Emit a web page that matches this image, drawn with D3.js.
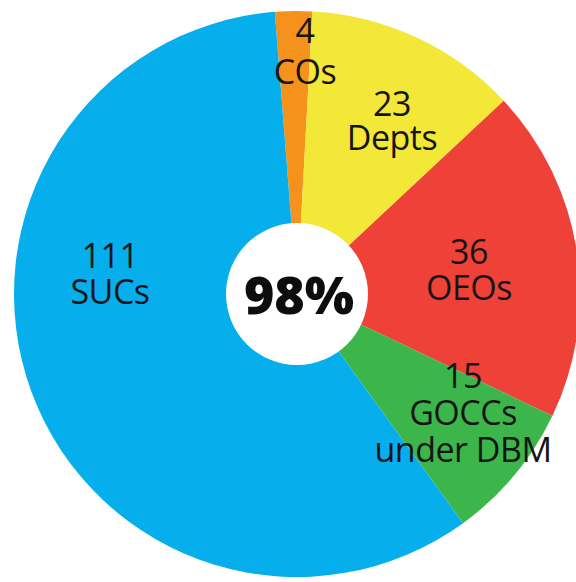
<!DOCTYPE html>
<html>
<head>
<meta charset="utf-8">
<script src="https://cdn.jsdelivr.net/npm/d3@7/dist/d3.min.js"></script>
<style>
  html, body { margin: 0; padding: 0; background: #ffffff; }
  svg { display: block; }
</style>
</head>
<body>
<svg id="chart" width="576" height="582"></svg>
<script>
// Agencies by type (counts)
const categories = ["COs", "Depts", "OEOs", "GOCCs", "SUCs"];
const values = [4, 23, 36, 15, 111];
const labelLines = [
  ["4", "COs"],
  ["23", "Depts"],
  ["36", "OEOs"],
  ["15", "GOCCs", "under DBM"],
  ["111", "SUCs"]
];
const centerLabel = "98%";

// Styling and layout
const colors = ["#f5921c", "#f3e737", "#ee4137", "#3cb54b", "#06aeec"];
const cx = 297, cy = 294;
const outerR = 283, innerR = 71;
const startDeg = -4.5;

// Label anchors (x centre and baselines of each line)
const labelLayout = [
  { x: 305, y: [43, 84] },
  { x: 392, y: [116, 150] },
  { x: 469, y: [264, 300] },
  { x: 463, y: [388, 425, 462] },
  { x: 110, y: [268, 304] }
];

const svg = d3.select("#chart");
const g = svg.append("g").attr("transform", `translate(${cx},${cy})`);

const pie = d3.pie()
  .sort(null)
  .value(d => d)
  .startAngle(startDeg * Math.PI / 180)
  .endAngle(startDeg * Math.PI / 180 + 2 * Math.PI);

const arc = d3.arc().innerRadius(0).outerRadius(outerR);

const color = d3.scaleOrdinal().domain(categories).range(colors);

g.selectAll("path.slice")
  .data(pie(values))
  .join("path")
  .attr("class", "slice")
  .attr("d", arc)
  .attr("fill", (d, i) => color(categories[i]));

// White hub
g.append("circle")
  .attr("r", innerR)
  .attr("fill", "#ffffff");

g.append("text")
  .attr("x", 2)
  .attr("y", 20)
  .attr("text-anchor", "middle")
  .attr("font-family", "'Open Sans', 'Noto Sans', sans-serif")
  .attr("font-weight", 800)
  .attr("font-size", 52)
  .attr("fill", "#0d0d0d")
  .text(centerLabel);

// Slice labels
const labels = svg.append("g")
  .attr("font-family", "'Open Sans', 'Noto Sans', sans-serif")
  .attr("font-size", 34)
  .attr("fill", "#151515")
  .attr("text-anchor", "middle");

labelLines.forEach((lines, i) => {
  const t = labels.append("text");
  lines.forEach((line, j) => {
    t.append("tspan")
      .attr("x", labelLayout[i].x)
      .attr("y", labelLayout[i].y[j])
      .attr("letter-spacing", -0.5)
      .text(line);
  });
});
</script>
</body>
</html>
